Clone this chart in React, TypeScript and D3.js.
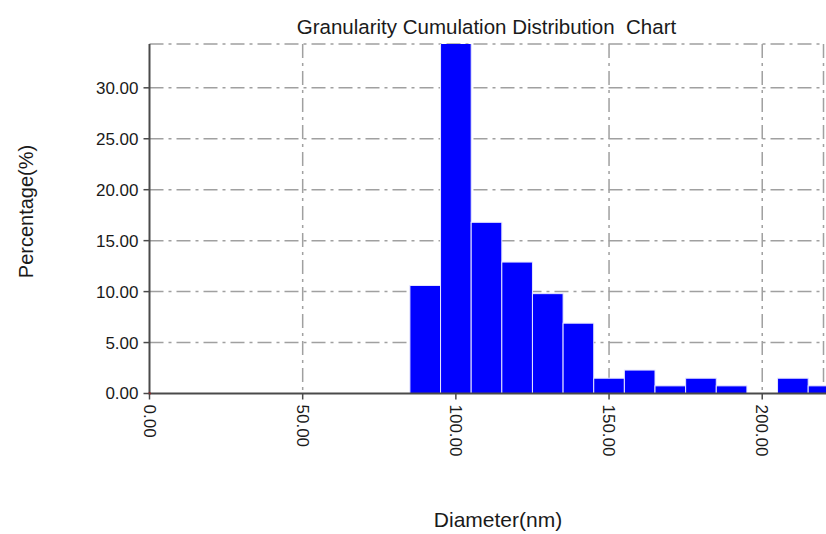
import React from "react";
import * as d3 from "d3";

const binStarts = [85, 95, 105, 115, 125, 135, 145, 155, 165, 175, 185, 195, 205, 215];
const binWidth = 10;
const percentages = [10.6, 36, 16.8, 12.9, 9.8, 6.9, 1.5, 2.3, 0.75, 1.5, 0.75, 0, 1.5, 0.75];
const xTicks = [0, 50, 100, 150, 200];
const yTicks = [0, 5, 10, 15, 20, 25, 30];
const xDomain = [0, 220];
const yDomain = [0, 34.3];
const title = "Granularity Cumulation Distribution  Chart";
const xTitle = "Diameter(nm)";
const yTitle = "Percentage(%)";

const W = 826;
const H = 534;
const left = 149.5;
const right = 823.5;
const top = 44;
const bottom = 393.5;
const font = "'Liberation Sans', Arial, sans-serif";
const textColor = "#1a1a1a";
const gridColor = "#a0a0a0";
const axisColor = "#4a4a4a";
const dash = "14,5,3,5";

export default function App() {
  const x = d3.scaleLinear().domain(xDomain).range([left, right]);
  const y = d3.scaleLinear().domain(yDomain).range([bottom, top]);

  return (
    <svg
      width={W}
      height={H}
      style={{ position: "absolute", left: 0, top: 0, background: "#fff" }}
      fontFamily={font}
    >
      <defs>
        <clipPath id="plotClip">
          <rect x={left} y={top} width={W - left} height={bottom - top} />
        </clipPath>
      </defs>
      <rect x={0} y={0} width={W} height={H} fill="#fff" />

      {/* grid */}
      {yTicks.filter((t) => t > 0).map((t) => (
        <line key={"gy" + t} x1={left} x2={right} y1={y(t)} y2={y(t)} stroke={gridColor} strokeWidth={1.5} strokeDasharray={dash} />
      ))}
      <line x1={left} x2={right} y1={y(yDomain[1])} y2={y(yDomain[1])} stroke={gridColor} strokeWidth={1.5} strokeDasharray={dash} />
      {xTicks.filter((t) => t > 0).map((t) => (
        <line key={"gx" + t} x1={x(t)} x2={x(t)} y1={top} y2={bottom} stroke={gridColor} strokeWidth={1.5} strokeDasharray={dash} />
      ))}
      <line x1={x(xDomain[1])} x2={x(xDomain[1])} y1={top} y2={bottom} stroke={gridColor} strokeWidth={1.5} strokeDasharray={dash} />

      {/* bars */}
      <g clipPath="url(#plotClip)">
        {binStarts.map((b, i) =>
          percentages[i] > 0 ? (
            <rect
              key={"bar" + i}
              x={x(b)}
              y={y(percentages[i])}
              width={x(b + binWidth) - x(b)}
              height={y(0) - y(percentages[i])}
              fill="#0000ff"
              stroke="#e6e6ff"
              strokeWidth={1}
            />
          ) : null
        )}
      </g>

      {/* axes */}
      <line x1={left} x2={left} y1={top} y2={bottom} stroke={axisColor} strokeWidth={2} />
      <line x1={left} x2={W} y1={bottom} y2={bottom} stroke={axisColor} strokeWidth={2} />
      <rect x={left - 1} y={bottom - 1} width={2} height={2} fill="#c00000" />

      {yTicks.map((t) => (
        <g key={"yt" + t}>
          <line x1={left - 6} x2={left} y1={y(t)} y2={y(t)} stroke={axisColor} strokeWidth={1.5} />
          <text x={left - 11} y={y(t)} dy="0.35em" textAnchor="end" fontSize={17} fill={textColor}>
            {t.toFixed(2)}
          </text>
        </g>
      ))}
      {xTicks.map((t) => (
        <g key={"xt" + t}>
          <line x1={x(t)} x2={x(t)} y1={bottom} y2={bottom + 6} stroke={axisColor} strokeWidth={1.5} />
          <text
            transform={`translate(${x(t)},${bottom + 11}) rotate(90)`}
            dy="0.35em"
            textAnchor="start"
            fontSize={17}
            fill={textColor}
          >
            {t.toFixed(2)}
          </text>
        </g>
      ))}

      {/* titles */}
      <text x={486.5} y={34} textAnchor="middle" fontSize={20.5} fill={textColor} style={{ whiteSpace: "pre" }} xmlSpace="preserve">
        {title}
      </text>
      <text x={498} y={527} textAnchor="middle" fontSize={21} fill={textColor}>
        {xTitle}
      </text>
      <text transform={`translate(33,211.5) rotate(-90)`} textAnchor="middle" fontSize={20} fill={textColor}>
        {yTitle}
      </text>
    </svg>
  );
}
